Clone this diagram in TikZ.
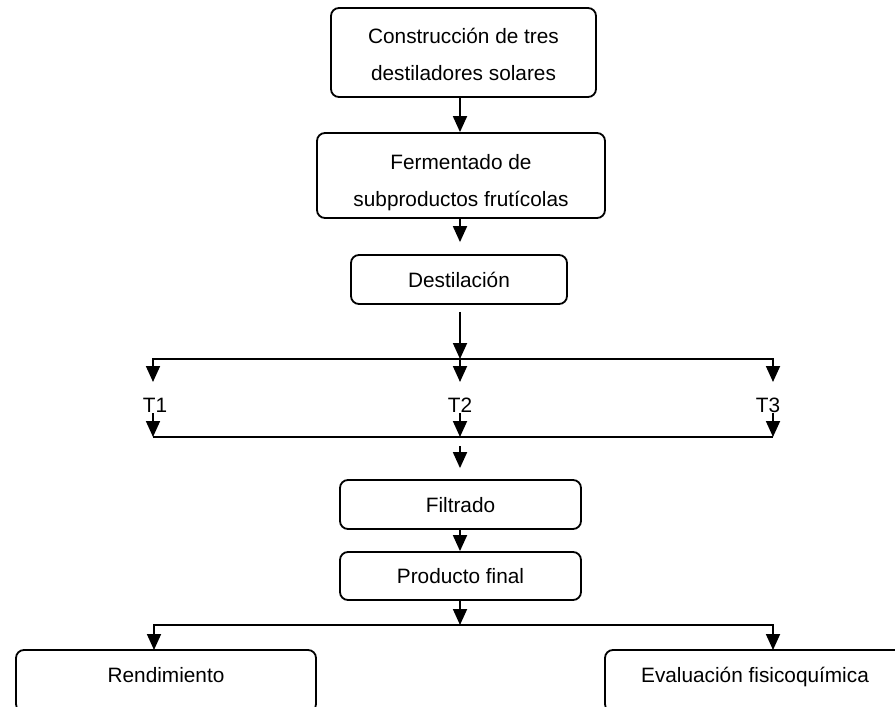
\documentclass[tikz,border=0pt]{standalone}
\usepackage{fontspec}
\setmainfont{Liberation Sans}
\usetikzlibrary{arrows.meta}
\begin{document}
\begin{tikzpicture}[x=1pt,y=-1pt,line width=1.8pt,
  txt/.style={font=\fontsize{20.8}{37}\selectfont},
  box/.style={draw,rounded corners=8pt,inner sep=0pt,txt},
  onebox/.style={box,text height=15pt,text depth=0pt},
  arr/.style={-{Triangle[width=14pt,length=16pt]}},
  lbl/.style={txt,inner sep=0pt,text height=15pt,text depth=0pt}]
\clip (0,0) rectangle (895,707);
% boxes
\node[box,align=center,minimum width=265pt,minimum height=89pt] (b1) at (463.5,52.5)
  {\rule{0pt}{20pt}Construcción de tres\\destiladores solares};
\node[box,align=center,minimum width=288pt,minimum height=85pt] (b2) at (461,175.5)
  {\rule{0pt}{30pt}Fermentado de\\subproductos frutícolas};
\node[onebox,minimum width=216pt,minimum height=49pt] (b3) at (459,279.5) {Destilación};
\node[onebox,minimum width=241pt,minimum height=49pt] (b4) at (460.5,504.5) {Filtrado};
\node[onebox,minimum width=241pt,minimum height=48pt] (b5) at (460.5,576) {Producto final};
\node[box,text height=15pt,text depth=12pt,minimum width=300pt,minimum height=62pt] (b6) at (166,681) {Rendimiento};
\node[box,text height=15pt,text depth=12pt,minimum width=300pt,minimum height=62pt] (b7) at (755,681) {Evaluación fisicoquímica};
% T labels
\node[lbl] (t1) at (155,405) {T1};
\node[lbl] (t2) at (460,405) {T2};
\node[lbl] (t3) at (768,405) {T3};
% coordinates
\coordinate (j0) at (460,359);
\coordinate (tip1) at (153,382);
\coordinate (tip2) at (460,382);
\coordinate (tip3) at (773,382);
\coordinate (s1) at (153,413);
\coordinate (s2) at (460,413);
\coordinate (s3) at (773,413);
\coordinate (l1) at (153,437);
\coordinate (l2) at (460,437);
\coordinate (l3) at (773,437);
\coordinate (m) at (460,446);
\coordinate (j2) at (460,625);
\coordinate (e1) at (154,650);
\coordinate (e3) at (773,650);
% connectors
\draw[arr] (j0 |- b1.south) -- (j0 |- b2.north);
\draw[arr,shorten >=12pt] (j0 |- b2.south) -- (j0 |- b3.north);
\draw[arr,shorten <=7pt] (j0 |- b3.south) -- (j0);
\draw[arr] (j0) -| (tip1);
\draw[arr] (j0) -- (tip2);
\draw[arr] (j0) -| (tip3);
\draw[arr] (s1) -- (l1);
\draw[arr] (s2) -- (l2);
\draw[arr] (s3) -- (l3);
\draw (l1) -- (l3);
\draw[arr,shorten >=11pt] (m) -- (m |- b4.north);
\draw[arr] (m |- b4.south) -- (m |- b5.north);
\draw[arr] (m |- b5.south) -- (j2);
\draw[arr] (j2) -| (e1);
\draw[arr] (j2) -| (e3);
\end{tikzpicture}
\end{document}
